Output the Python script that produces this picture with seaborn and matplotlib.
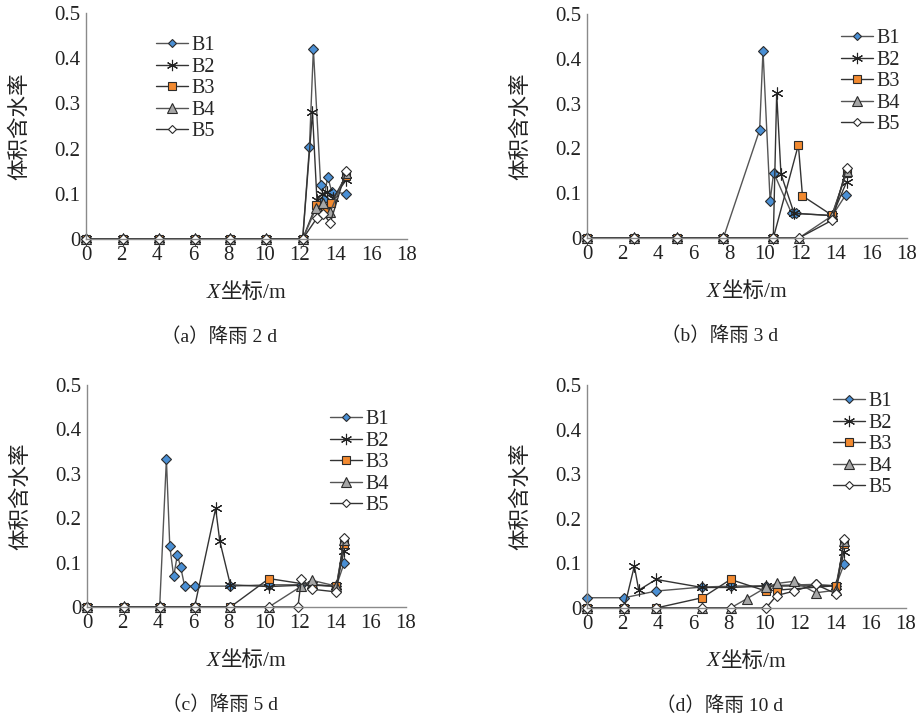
import matplotlib
matplotlib.use("Agg")
import matplotlib.pyplot as plt
import seaborn as sns

# ---------------- data: volumetric water content along X ----------------
series_names = ["B1", "B2", "B3", "B4", "B5"]
x_ticks = [0, 2, 4, 6, 8, 10, 12, 14, 16, 18]
y_ticks = [0, 0.1, 0.2, 0.3, 0.4, 0.5]
y_tick_labels = ["0", "0.1", "0.2", "0.3", "0.4", "0.5"]
panel_captions = ["（a）降雨 2 d", "（b）降雨 3 d", "（c）降雨 5 d", "（d）降雨 10 d"]

# (a) rainfall 2 d
a_zero_x = [0, 2.08, 4.1, 6.1, 8.1, 10.1, 12.15]
a_B1_x = a_zero_x + [12.53, 12.75, 13.16, 13.35, 13.55, 13.78, 14.58]
a_B1_y = [0] * 7 + [0.204, 0.42, 0.119, 0.088, 0.138, 0.105, 0.10]
a_B2_x = a_zero_x + [12.7, 12.95, 13.25, 13.5, 13.85, 14.58]
a_B2_y = [0] * 7 + [0.28, 0.086, 0.10, 0.105, 0.09, 0.13]
a_B3_x = a_zero_x + [12.9, 13.4, 13.75, 14.58]
a_B3_y = [0] * 7 + [0.075, 0.064, 0.08, 0.14]
a_B4_x = a_zero_x + [12.9, 13.3, 13.7, 14.58]
a_B4_y = [0] * 7 + [0.068, 0.08, 0.06, 0.145]
a_B5_x = a_zero_x + [12.94, 13.3, 13.7, 14.58]
a_B5_y = [0] * 7 + [0.046, 0.055, 0.036, 0.15]

# (b) rainfall 3 d
b_zero_x = [0, 2.66, 5.08, 7.67, 10.48, 11.92]
b_B1_x = [0, 2.66, 5.08, 7.67, 9.71, 9.9, 10.3, 10.5, 11.51, 11.76, 13.8, 14.55]
b_B1_y = [0, 0, 0, 0, 0.241, 0.418, 0.083, 0.146, 0.055, 0.055, 0.05, 0.096]
b_B2_x = [0, 2.66, 5.08, 7.67, 10.48, 10.67, 10.91, 11.65, 13.8, 14.6]
b_B2_y = [0, 0, 0, 0, 0, 0.323, 0.143, 0.055, 0.05, 0.125]
b_B3_x = [0, 2.66, 5.08, 7.67, 10.48, 11.89, 12.12, 13.77, 14.6]
b_B3_y = [0, 0, 0, 0, 0, 0.208, 0.094, 0.051, 0.145]
b_B4_x = b_zero_x + [13.8, 14.6]
b_B4_y = [0] * 6 + [0.05, 0.15]
b_B5_x = b_zero_x + [13.8, 14.6]
b_B5_y = [0] * 6 + [0.04, 0.157]

# (c) rainfall 5 d
c_B1_x = [0, 2.07, 4.1, 4.48, 4.67, 4.89, 5.1, 5.29, 5.51, 6.12, 8.09, 10.26, 12.1, 12.7, 14.07, 14.5]
c_B1_y = [0, 0, 0, 0.333, 0.138, 0.069, 0.117, 0.089, 0.047, 0.047, 0.047, 0.05, 0.05, 0.05, 0.047, 0.098]
c_B2_x = [0, 2.07, 4.1, 6.07, 7.26, 7.49, 8.09, 10.26, 12.7, 14.07, 14.5]
c_B2_y = [0, 0, 0, 0, 0.222, 0.149, 0.05, 0.046, 0.05, 0.047, 0.126]
c_B3_x = [0, 2.07, 4.1, 6.07, 8.09, 10.27, 12.7, 14.07, 14.5]
c_B3_y = [0, 0, 0, 0, 0, 0.064, 0.049, 0.047, 0.143]
c_B4_x = [0, 2.07, 4.1, 6.07, 8.09, 10.26, 12.1, 12.7, 14.07, 14.5]
c_B4_y = [0, 0, 0, 0, 0, 0, 0.047, 0.06, 0.047, 0.15]
c_B5_x = [0, 2.07, 4.1, 6.07, 8.09, 10.26, 11.9, 12.1, 12.7, 14.07, 14.5]
c_B5_y = [0, 0, 0, 0, 0, 0, 0, 0.064, 0.04, 0.034, 0.155]

# (d) rainfall 10 d
d_B1_x = [0, 2.1, 3.9, 6.5, 8.1, 10.1, 12.9, 14.05, 14.5]
d_B1_y = [0.023, 0.023, 0.038, 0.047, 0.049, 0.05, 0.053, 0.05, 0.098]
d_B2_x = [0, 2.1, 2.67, 2.92, 3.9, 6.5, 8.1, 10.1, 14.05, 14.5]
d_B2_y = [0, 0, 0.094, 0.04, 0.064, 0.046, 0.046, 0.049, 0.05, 0.125]
d_B3_x = [0, 2.1, 3.9, 6.5, 8.1, 10.1, 10.7, 14.05, 14.5]
d_B3_y = [0, 0, 0, 0.023, 0.064, 0.038, 0.04, 0.05, 0.143]
d_B4_x = [0, 2.1, 3.9, 6.5, 8.1, 9.03, 10.1, 10.7, 11.7, 12.9, 14.05, 14.5]
d_B4_y = [0, 0, 0, 0, 0, 0.021, 0.046, 0.055, 0.06, 0.034, 0.04, 0.15]
d_B5_x = [0, 2.1, 3.9, 6.5, 8.1, 10.1, 10.7, 11.7, 12.9, 14.05, 14.5]
d_B5_y = [0, 0, 0, 0, 0, 0, 0.028, 0.038, 0.053, 0.032, 0.155]

panels = [
    [(a_B1_x, a_B1_y), (a_B2_x, a_B2_y), (a_B3_x, a_B3_y), (a_B4_x, a_B4_y), (a_B5_x, a_B5_y)],
    [(b_B1_x, b_B1_y), (b_B2_x, b_B2_y), (b_B3_x, b_B3_y), (b_B4_x, b_B4_y), (b_B5_x, b_B5_y)],
    [(c_B1_x, c_B1_y), (c_B2_x, c_B2_y), (c_B3_x, c_B3_y), (c_B4_x, c_B4_y), (c_B5_x, c_B5_y)],
    [(d_B1_x, d_B1_y), (d_B2_x, d_B2_y), (d_B3_x, d_B3_y), (d_B4_x, d_B4_y), (d_B5_x, d_B5_y)],
]

# ---------------- styling ----------------
sns.set_theme(style="white")
FONTS = ["Liberation Serif", "Noto Sans CJK SC"]
plt.rcParams["font.family"] = FONTS

EDGE = "#2b2b2b"
TEXT = "#222222"
marker_styles = {
    "B1": dict(marker="D", ms=4.8, mfc="#4a8fd4", mec=EDGE, color="#555555"),
    "B2": dict(marker=(6, 2, 0), ms=8.5, mfc="none", mec="#222222", color="#333333"),
    "B3": dict(marker="s", ms=6.2, mfc="#f28a30", mec=EDGE, color="#333333"),
    "B4": dict(marker="^", ms=7.2, mfc="#a6a6a6", mec=EDGE, color="#555555"),
    "B5": dict(marker="D", ms=4.8, mfc="white", mec=EDGE, color="#333333"),
}

W, H = 922, 721
fig = plt.figure(figsize=(W / 100, H / 100), dpi=100)

# axes rectangles in pixels: left, top(0.5), right(18), bottom(0)
rects_px = [(86, 13, 407, 239), (587, 14, 907, 238), (87, 385, 406, 607), (587, 385, 906, 608)]
legend_anchor_px = [(156, 36), (841, 29), (330, 410), (833, 392)]

for idx, (series, (l, t, r, b)) in enumerate(zip(panels, rects_px)):
    ax = fig.add_axes([l / W, 1 - b / H, (r - l) / W, (b - t) / H])
    for name, (xs, ys) in zip(series_names, series):
        st = marker_styles[name]
        sns.lineplot(x=xs, y=ys, ax=ax, sort=False, estimator=None,
                     color=st["color"], lw=1.0, marker=st["marker"],
                     markersize=st["ms"], markerfacecolor=st["mfc"],
                     markeredgecolor=st["mec"], markeredgewidth=0.8,
                     clip_on=False, label=name)
    ax.set_xlim(0, 18)
    ax.set_ylim(0, 0.5)
    ax.set_xticks(x_ticks)
    ax.set_xticklabels([str(v) for v in x_ticks])
    ax.set_yticks(y_ticks)
    ax.set_yticklabels(y_tick_labels)
    for side in ("top", "right"):
        ax.spines[side].set_visible(False)
    for side in ("left", "bottom"):
        ax.spines[side].set_color("#8a8a8a")
        ax.spines[side].set_linewidth(1.0)
    ax.tick_params(axis="both", direction="in", length=4, width=0.9,
                   color="#8a8a8a", labelsize=15, labelcolor=TEXT, pad=5)
    ax.tick_params(axis="y", pad=4)
    ax.set_xlabel("")
    ax.set_ylabel("")

    lx, ly = legend_anchor_px[idx]
    ax.legend(loc="upper left", bbox_to_anchor=(lx / W, 1 - ly / H),
              bbox_transform=fig.transFigure, frameon=False, fontsize=14.5,
              borderpad=0, borderaxespad=0, labelspacing=0.12,
              handlelength=1.6, handletextpad=0.15, markerscale=0.95)

    # axis title below: italic X followed by the unit text
    cx = (l + r) / 2
    ty = 1 - (b + 54) / H
    fig.text((cx - 27) / W, ty, "X", ha="right", va="center", fontsize=15.5,
             style="italic", family=FONTS, color=TEXT)
    fig.text((cx - 26) / W, ty, "坐标/m", ha="left", va="center", fontsize=15.5,
             family=FONTS, color=TEXT)
    fig.text((cx - 27) / W, 1 - (b + 98) / H, panel_captions[idx], ha="center",
             va="center", fontsize=14, family=FONTS, color=TEXT)
    fig.text((l - 66) / W, 1 - ((t + b) / 2) / H, "体积含水率", ha="center",
             va="center", rotation=90, fontsize=15.5, family=FONTS, color=TEXT)

fig.savefig("out.png", dpi=100)
